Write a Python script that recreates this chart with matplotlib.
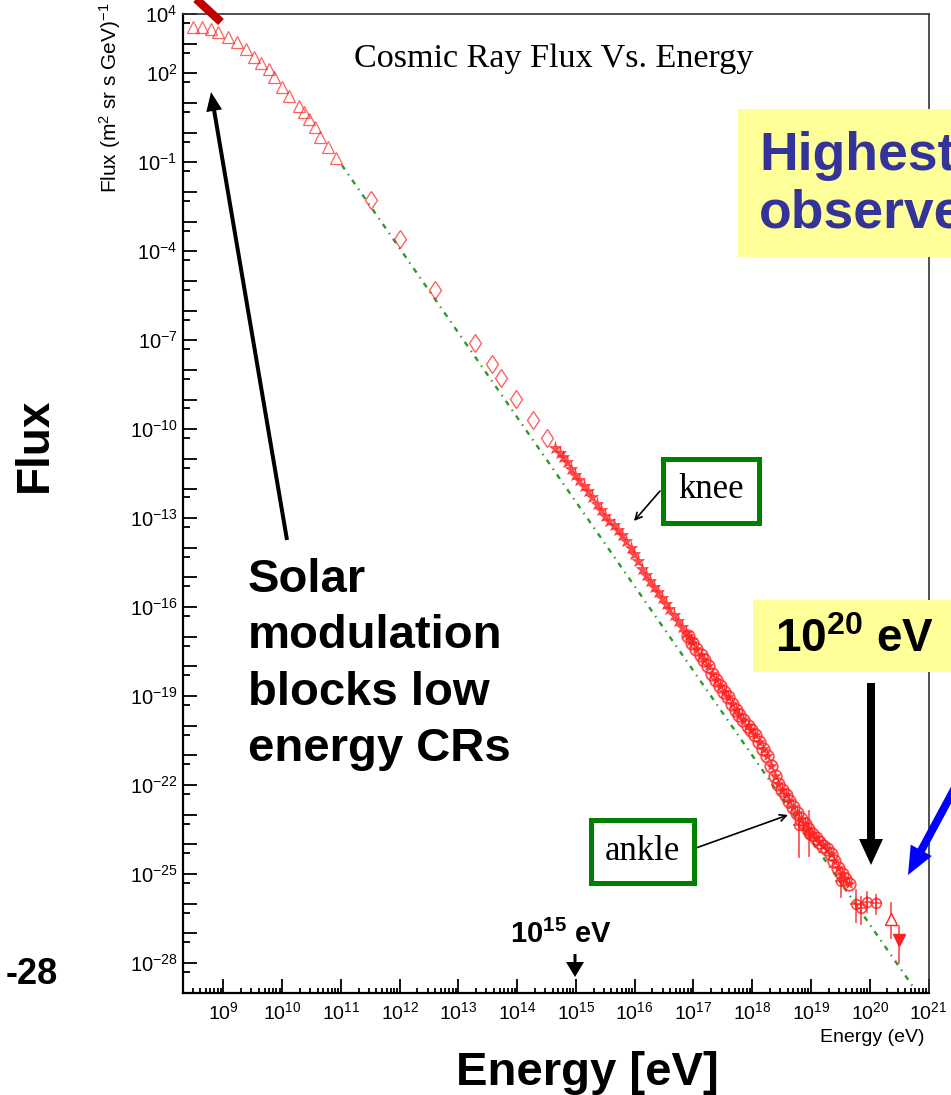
import matplotlib
matplotlib.use("Agg")
import matplotlib.pyplot as plt
import numpy as np
from matplotlib import transforms
from matplotlib.patches import Rectangle, Polygon
from matplotlib.lines import Line2D
from matplotlib.ticker import FixedLocator, FuncFormatter, NullFormatter

plt.rcParams['font.family'] = ['Liberation Sans', 'DejaVu Sans']
plt.rcParams['mathtext.fontset'] = 'custom'
plt.rcParams['mathtext.rm'] = 'Liberation Sans'
plt.rcParams['mathtext.it'] = 'Liberation Sans:italic'
plt.rcParams['mathtext.bf'] = 'Liberation Sans:bold'

# ---- data (log10 of energy in eV, log10 of flux) ----
# low-energy balloon/satellite points (open triangles)
tri_logE = [8.477, 8.630, 8.784, 8.915, 9.085, 9.227, 9.380, 9.523, 9.635, 9.767,
            9.869, 9.993, 10.124, 10.278, 10.363, 10.448, 10.562, 10.647, 10.772, 10.920]
tri_logF = [3.552, 3.552, 3.494, 3.383, 3.211, 3.049, 2.816, 2.543, 2.340, 2.148,
            1.885, 1.551, 1.247, 0.903, 0.680, 0.457, 0.174, -0.160, -0.474, -0.859]

# direct measurements (open diamonds)
dia_logE = [11.516, 12.003, 12.595, 13.276, 13.577, 13.731, 13.986, 14.276, 14.514]
dia_logF = [-2.255, -3.601, -5.292, -7.093, -7.812, -8.288, -8.966, -9.675, -10.283]

# air-shower measurements around the knee (stars)
star_logE = [14.65, 14.72, 14.78, 14.85, 14.92, 14.99, 15.06, 15.13, 15.20, 15.27,
             15.35, 15.42, 15.50, 15.57, 15.64, 15.71, 15.79, 15.86, 15.93, 15.99,
             16.06, 16.13, 16.19, 16.26, 16.33, 16.39, 16.46, 16.53, 16.59, 16.66,
             16.73, 16.80, 16.87, 16.95]
star_logF = [-10.62, -10.80, -10.95, -11.12, -11.33, -11.53, -11.72, -11.90, -12.07, -12.28,
             -12.52, -12.73, -12.92, -13.08, -13.23, -13.40, -13.58, -13.78, -14.00, -14.20,
             -14.45, -14.72, -14.93, -15.13, -15.33, -15.50, -15.70, -15.90, -16.06, -16.26,
             -16.47, -16.68, -16.87, -17.10]

# air-shower measurements up to the ankle and beyond (open circles)
circ_logE = [16.90, 16.98, 17.05, 17.12, 17.18, 17.25, 17.32, 17.38, 17.45, 17.52,
             17.58, 17.65, 17.72, 17.78, 17.85, 17.92, 17.98, 18.05, 18.12, 18.18,
             18.25, 18.32, 18.38, 18.44, 18.50, 18.57, 18.63, 18.70, 18.76, 18.83,
             18.89, 18.95, 19.02, 19.08, 19.14, 19.20, 19.27, 19.34, 19.40, 19.46,
             19.52, 19.58, 19.65]
circ_logF = [-16.97, -17.20, -17.40, -17.60, -17.77, -18.00, -18.25, -18.45, -18.65, -18.85,
             -19.04, -19.25, -19.46, -19.63, -19.82, -20.00, -20.15, -20.32, -20.55, -20.78,
             -21.02, -21.35, -21.68, -21.95, -22.15, -22.35, -22.55, -22.75, -22.93, -23.15,
             -23.32, -23.47, -23.64, -23.80, -23.93, -24.05, -24.15, -24.32, -24.55, -24.80,
             -25.00, -25.15, -25.33]

# highest-energy points with error bars
err_logE = [18.80, 18.97, 19.51, 19.76, 19.85, 19.96, 20.10]
err_logF = [-23.36, -23.64, -25.22, -26.00, -26.16, -25.95, -25.98]
err_hi = [-22.86, -22.86, -24.98, -25.55, -25.78, -25.61, -25.69]
err_lo = [-24.44, -24.40, -25.79, -26.62, -26.68, -26.29, -26.34]

hires_logE, hires_logF, hires_hi, hires_lo = [20.363], [-26.508], [-25.990], [-27.144]
agasa_logE, agasa_logF, agasa_hi, agasa_lo = [20.504], [-27.216], [-26.740], [-28.015]

# power-law reference line endpoints
fit_logE = [11.015, 20.755]
fit_logF = [-1.096, -28.85]

x_labels_exp = list(range(9, 22))
y_labels_exp = [4, 2, -1, -4, -7, -10, -13, -16, -19, -22, -25, -28]

# ---- figure ----
W, H = 951, 1095
fig = plt.figure(figsize=(W / 100, H / 100), dpi=100)
px = transforms.Affine2D().scale(1 / W, -1 / H).translate(0, 1) + fig.transFigure

L, R, T, B = 183, 928.5, 14, 992.7
ax = fig.add_axes([L / W, 1 - B / H, (R - L) / W, (B - T) / H])
ax.set_xscale('log')
ax.set_yscale('log')
ax.set_xlim(2.05e8, 1e21)
ax.set_ylim(1e-29, 1e4)

p = lambda v: 10.0 ** np.asarray(v, dtype=float)
red = '#ff2020'

ax.plot(p(fit_logE), p(fit_logF), color='#2a9a2a', lw=1.7,
        linestyle=(0, (2.2, 2.4, 0.6, 2.4)), zorder=2)

ax.plot(p(tri_logE), p(tri_logF), linestyle='none', marker='^', ms=8.5,
        mfc='none', mec=red, mew=0.9, alpha=0.7, zorder=3)
ax.plot(p(dia_logE), p(dia_logF), linestyle='none', marker='d', ms=9.5,
        mfc='none', mec=red, mew=1.0, alpha=0.7, zorder=3)
ax.plot(p(star_logE), p(star_logF), linestyle='none', marker='*', ms=9.5,
        color=red, mew=0.5, alpha=0.8, zorder=3)
ax.plot(p(circ_logE), p(circ_logF), linestyle='none', marker='o', ms=9,
        mfc='none', mec=red, mew=1.3, alpha=0.8, zorder=3)
ax.plot(p(circ_logE), p(circ_logF), linestyle='none', marker='*', ms=8,
        color=red, mew=0.4, alpha=0.9, zorder=3)

for e, f, hi, lo in zip(err_logE, err_logF, err_hi, err_lo):
    ax.plot([p(e), p(e)], [p(lo), p(hi)], color=red, lw=1.3, alpha=0.75, zorder=3)
ax.plot(p(err_logE), p(err_logF), linestyle='none', marker='o', ms=7,
        mfc='none', mec=red, mew=1.2, alpha=0.8, zorder=3)
ax.plot(p(err_logE), p(err_logF), linestyle='none', marker='+', ms=9,
        color=red, mew=1.2, alpha=0.8, zorder=3)

for e, hi, lo in zip(hires_logE, hires_hi, hires_lo):
    ax.plot([p(e), p(e)], [p(lo), p(hi)], color=red, lw=1.3, alpha=0.75, zorder=3)
ax.plot(p(hires_logE), p(hires_logF), linestyle='none', marker='^', ms=8,
        mfc='white', mec=red, mew=1.0, zorder=4)
for e, hi, lo in zip(agasa_logE, agasa_hi, agasa_lo):
    ax.plot([p(e), p(e)], [p(lo), p(hi)], color=red, lw=1.3, alpha=0.75, zorder=3)
ax.plot(p(agasa_logE), p(agasa_logF), linestyle='none', marker='v', ms=8,
        color=red, zorder=4)

# axes styling
for side in ('left', 'bottom'):
    ax.spines[side].set_linewidth(1.6)
    ax.spines[side].set_color('black')
for side in ('top', 'right'):
    ax.spines[side].set_linewidth(1.2)
    ax.spines[side].set_color('#333333')

ax.xaxis.set_major_locator(FixedLocator(p(np.arange(9, 22))))
ax.xaxis.set_minor_locator(FixedLocator([m * 10.0 ** k for k in range(8, 21) for m in range(2, 10)]))
ax.yaxis.set_major_locator(FixedLocator(p(np.arange(-29, 5))))
ax.yaxis.set_minor_locator(FixedLocator(5 * p(np.arange(-30, 4))))
ax.xaxis.set_major_formatter(FuncFormatter(
    lambda v, pos: r'$10^{%d}$' % round(np.log10(v)) if round(np.log10(v)) in x_labels_exp else ''))
ax.yaxis.set_major_formatter(FuncFormatter(
    lambda v, pos: r'$10^{%d}$' % round(np.log10(v)) if round(np.log10(v)) in y_labels_exp else ''))
ax.xaxis.set_minor_formatter(NullFormatter())
ax.yaxis.set_minor_formatter(NullFormatter())
ax.tick_params(which='both', direction='in', top=False, right=False, width=1.3, colors='black')
ax.tick_params(which='major', length=10)
ax.xaxis.set_tick_params(which='major', pad=6, labelsize=14)
ax.yaxis.set_tick_params(which='major', pad=4, labelsize=14.5)
ax.xaxis.set_tick_params(which='minor', length=3.6)
ax.yaxis.set_tick_params(which='minor', length=5)

# plot texts
fig.text(554, 67, 'Cosmic Ray Flux Vs. Energy', transform=px, ha='center', va='baseline',
         family='Liberation Serif', fontsize=24.6)
fig.text(110, 3, r'Flux (m$^{2}$ sr s GeV)$^{-1}$', transform=px, rotation=90,
         ha='center', va='top', fontsize=15)
fig.text(925, 1038, 'Energy (eV)', transform=px, ha='right', va='center', fontsize=14)


def arrow(tail, tip, shaft_w, head_w, head_len, color):
    t = np.array(tail, float)
    h = np.array(tip, float)
    d = h - t
    u = d / np.hypot(*d)
    n = np.array([-u[1], u[0]])
    base = h - u * head_len
    pts = [t + n * shaft_w / 2, base + n * shaft_w / 2, base + n * head_w / 2, h,
           base - n * head_w / 2, base - n * shaft_w / 2, t - n * shaft_w / 2]
    fig.add_artist(Polygon(pts, closed=True, transform=px, facecolor=color,
                           edgecolor='none', zorder=6))


# slide overlay: boxes, labels and arrows
fig.add_artist(Line2D([194, 221], [-3, 22], transform=px, color='#c00000', lw=6,
                      solid_capstyle='butt', zorder=6))

fig.add_artist(Rectangle((738, 109), 260, 148, transform=px, facecolor='#ffff99',
                         edgecolor='none', zorder=5))
fig.text(759, 170, 'Highest', transform=px, ha='left', va='baseline', fontsize=38.5,
         fontweight='bold', color='#333399', zorder=7)
fig.text(759, 228, 'observed', transform=px, ha='left', va='baseline', fontsize=38.5,
         fontweight='bold', color='#333399', zorder=7)

fig.add_artist(Rectangle((753, 600), 250, 72, transform=px, facecolor='#ffff99',
                         edgecolor='none', zorder=5))
fig.text(775, 652, r'$\mathbf{10^{20}}$ eV', transform=px, ha='left', va='baseline',
         fontsize=33, fontweight='bold', color='black', zorder=7)
arrow((871, 683), (871, 865), 8, 24, 26, 'black')
arrow((978, 745), (908, 875), 8, 24, 28, '#0000ff')

fig.text(35, 445, 'Flux', transform=px, rotation=90, ha='center', va='center',
         fontsize=33, fontweight='bold')
fig.text(58, 984, '-28', transform=px, ha='right', va='baseline', fontsize=26,
         fontweight='bold')
fig.text(587, 1085, 'Energy [eV]', transform=px, ha='center', va='baseline',
         fontsize=34, fontweight='bold')

for txt, yb in zip(['Solar', 'modulation', 'blocks low', 'energy CRs'], [592, 648, 705, 761]):
    fig.text(248, yb, txt, transform=px, ha='left', va='baseline', fontsize=34,
             fontweight='bold')
arrow((287, 540), (211, 92), 4, 16, 19, 'black')

fig.text(510, 943, r'$\mathbf{10^{15}}$ eV', transform=px, ha='left', va='baseline',
         fontsize=21, fontweight='bold')
arrow((575, 954), (575, 977), 3, 18, 15, 'black')

fig.add_artist(Rectangle((662.5, 459), 96.5, 63.5, transform=px, facecolor='white',
                         edgecolor='#008000', lw=3.6, zorder=5))
fig.text(711, 490, 'knee', transform=px, ha='center', va='center', fontsize=25,
         family='Liberation Serif', zorder=7)
fig.add_artist(Rectangle((590.5, 819.5), 103, 63, transform=px, facecolor='white',
                         edgecolor='#008000', lw=3.6, zorder=5))
fig.text(642, 851, 'ankle', transform=px, ha='center', va='center', fontsize=25,
         family='Liberation Serif', zorder=7)

for tail, tip in [((660, 491), (634, 521)), ((696, 848), (788, 815))]:
    ax.annotate('', xy=tip, xytext=tail, xycoords=px, textcoords=px,
                annotation_clip=False,
                arrowprops=dict(arrowstyle='->', lw=1.2, color='black',
                                shrinkA=0, shrinkB=0, mutation_scale=12))

fig.savefig('out.png', dpi=100)
